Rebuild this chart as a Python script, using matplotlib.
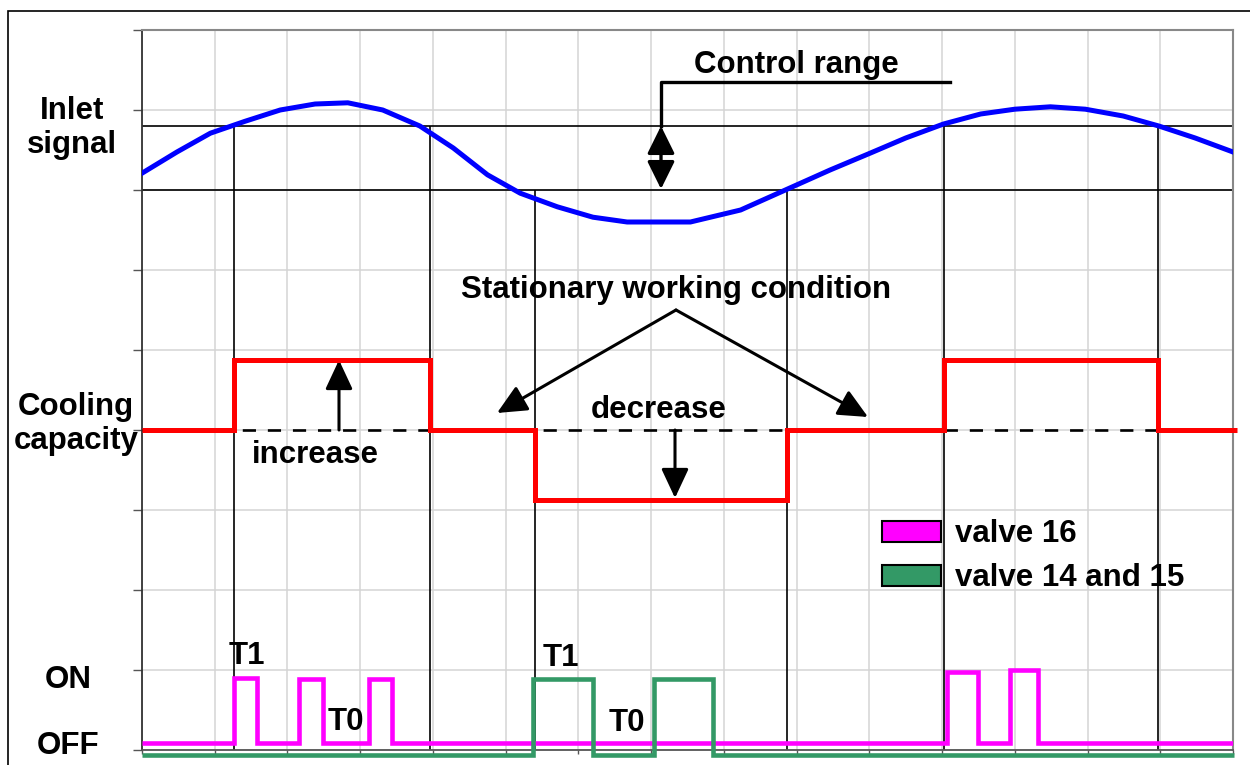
import matplotlib
matplotlib.use("Agg")
import matplotlib.pyplot as plt
from matplotlib.patches import Patch, Rectangle

plt.rcParams['font.family'] = ['Liberation Sans', 'DejaVu Sans']

# inlet signal (blue curve)
sig_x = [0, 0.48, 0.94, 1.42, 1.90, 2.38, 2.83, 3.31, 3.82, 4.28, 4.75, 5.20, 5.71,
         6.20, 6.67, 7.54, 8.23, 8.87, 9.46, 10.01, 10.5, 11.02, 11.53, 12.0, 12.49,
         12.97, 13.49, 13.98, 14.48, 15.0]
sig_y = [7.21, 7.475, 7.71, 7.86, 8.0, 8.075, 8.09, 8.0, 7.8, 7.525, 7.19, 6.96, 6.79,
         6.66, 6.6, 6.6, 6.75, 7.01, 7.25, 7.46, 7.65, 7.825, 7.95, 8.01, 8.04,
         8.01, 7.925, 7.8, 7.65, 7.475]

# control range limits
ctrl_hi = 7.8
ctrl_lo = 7.0

# crossings of the control range (vertical marker lines)
cross_x = [1.27, 3.96, 5.40, 8.87, 11.02, 13.97]
cross_top = [7.8, 7.8, 7.0, 7.0, 7.8, 7.8]

# cooling capacity (red steps)
cap_edges = [0, 1.27, 3.96, 5.40, 8.87, 11.02, 13.97, 15.05]
cap_levels = [4.0, 4.88, 4.0, 3.12, 4.0, 4.88, 4.0]
cap_nominal = 4.0

# valve 16 (magenta)
v16_edges = [0, 1.27, 1.58, 2.16, 2.49, 3.12, 3.44, 11.07, 11.49, 11.94, 12.32, 15.0]
v16_levels = [0.09, 0.9, 0.09, 0.89, 0.09, 0.89, 0.09, 0.97, 0.09, 1.0, 0.09]

# valve 14 and 15 (green)
v1415_edges = [0, 5.38, 6.20, 7.04, 7.85, 15.02]
v1415_levels = [-0.06, 0.89, -0.06, 0.89, -0.06]

fig = plt.figure(figsize=(12.5, 7.65), dpi=100)
ax = fig.add_axes([142 / 1250, 15 / 765, 1091 / 1250, 720 / 765])

# outer frame
fig.patches.append(Rectangle((8 / 1250, -0.05), 1.1, (765 - 11) / 765 + 0.05,
                             transform=fig.transFigure, fill=False, ec='black', lw=1.2))

ax.set_xlim(0, 15)
ax.set_ylim(0, 9)
ax.set_xticks(range(16))
ax.set_yticks(range(10))
ax.set_xticklabels([])
ax.set_yticklabels([])
ax.tick_params(axis='y', direction='out', length=6.5, width=1, color='#555555')
ax.tick_params(axis='x', direction='out', length=3, width=1, color='#555555')
ax.grid(True, color='#d4d4d4', lw=1.1)
ax.set_axisbelow(True)
for s in ['top', 'right']:
    ax.spines[s].set_color('#888888')
    ax.spines[s].set_linewidth(1.5)
ax.spines['left'].set_color('#333333')
ax.spines['left'].set_linewidth(1.3)
ax.spines['bottom'].set_color('#555555')
ax.spines['bottom'].set_linewidth(1.3)

# control range lines
ax.hlines([ctrl_hi, ctrl_lo], 0, 15, color='black', lw=1.2, zorder=2)
for x, top in zip(cross_x, cross_top):
    ax.vlines(x, 0, top, color='black', lw=1.2, zorder=2)

ax.plot(sig_x, sig_y, color='#0000ff', lw=3.6, zorder=4)

ax.hlines(cap_nominal, 0, 14, color='black', lw=1.9, linestyles=(0, (5, 4.5)), zorder=3)
ax.stairs(cap_levels, cap_edges, baseline=None, color='#ff0000', lw=3.6, zorder=4,
          clip_on=False)

ax.stairs(v16_levels, v16_edges, baseline=None, color='#ff00ff', lw=3.3, zorder=4)
ax.stairs(v1415_levels, v1415_edges, baseline=None, color='#339966', lw=3.3, zorder=5,
          clip_on=False)

fs = 22.5
bold = dict(fontsize=fs, fontweight='bold', ha='center', va='center')

def px(x, y):
    return ((x - 142) / 1091 * 15, (750 - y) / 80)

# left labels
fig.text(72 / 1250, 1 - 128 / 765, 'Inlet\nsignal', linespacing=1.2, **bold)
fig.text(76 / 1250, 1 - 424 / 765, 'Cooling\ncapacity', linespacing=1.2, **bold)
fig.text(68 / 1250, 1 - 680 / 765, 'ON', **bold)
fig.text(68 / 1250, 1 - 746 / 765, 'OFF', **bold)

# control range annotation
ax.text(*px(796, 65), 'Control range', **bold)
ax.plot(*zip(px(661, 126), px(661, 82), px(950, 82)), color='black', lw=2.4, zorder=6)
arrow = dict(arrowstyle='-|>,head_length=0.9,head_width=0.42', mutation_scale=20,
             color='black', lw=2.2, shrinkA=0, shrinkB=0)
darrow = dict(arrowstyle='<|-|>,head_length=0.85,head_width=0.42', mutation_scale=20,
              color='black', lw=2.4, shrinkA=0, shrinkB=0)
ax.annotate('', xy=px(661, 189), xytext=px(661, 126), arrowprops=darrow, zorder=6)

ax.text(*px(676, 290), 'Stationary working condition', **bold)
ax.annotate('', xy=px(497, 413), xytext=px(676, 310), arrowprops=arrow)
ax.annotate('', xy=px(868, 417), xytext=px(676, 310), arrowprops=arrow)

ax.text(*px(659, 410), 'decrease', **bold)
ax.annotate('', xy=px(675, 498), xytext=px(675, 430), arrowprops=arrow)

ax.text(*px(315, 455), 'increase', **bold)
ax.annotate('', xy=px(339, 360), xytext=px(339, 430), arrowprops=arrow)

ax.text(*px(247, 656), 'T1', **bold)
ax.text(*px(346, 722), 'T0', **bold)
ax.text(*px(561, 658), 'T1', **bold)
ax.text(*px(627, 723), 'T0', **bold)

handles = [Patch(facecolor='#ff00ff', edgecolor='black', lw=1.5, label='valve 16'),
           Patch(facecolor='#339966', edgecolor='black', lw=1.5, label='valve 14 and 15')]
leg = ax.legend(handles=handles, loc='upper left', bbox_to_anchor=px(876, 513),
                bbox_transform=ax.transData, frameon=False,
                prop=dict(size=fs, weight='bold'), handlelength=1.87, handleheight=0.65,
                handletextpad=0.45, labelspacing=0.45, borderpad=0.2, borderaxespad=0)

fig.savefig('out.png', dpi=100, facecolor='white')
